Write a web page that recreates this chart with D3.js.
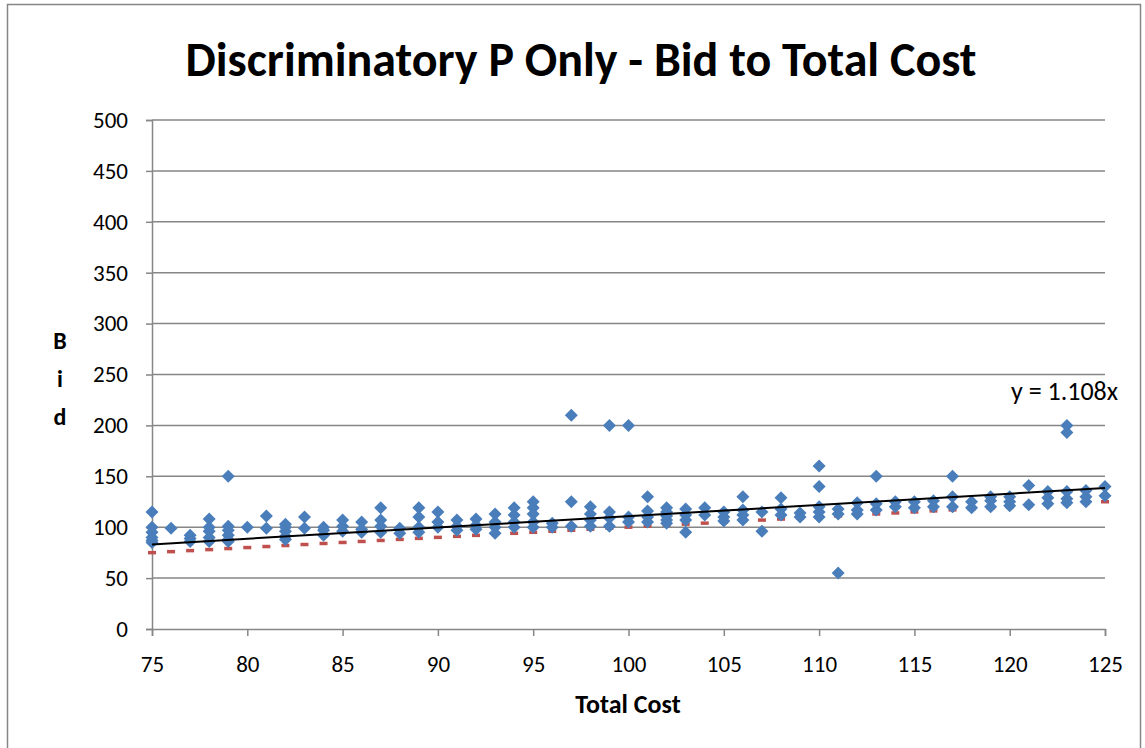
<!DOCTYPE html>
<html>
<head>
<meta charset="utf-8">
<script src="https://cdn.jsdelivr.net/npm/d3@7"></script>
<style>
  body { margin: 0; background: #fff; }
  svg { display: block; font-family: Carlito, Calibri, Lato, sans-serif; }
</style>
</head>
<body>
<div id="chart"></div>
<script>
// Datos: coste total (x) y pujas observadas en cada coste
const costs = [75, 76, 77, 78, 79, 80, 81, 82, 83, 84, 85, 86, 87, 88, 89, 90, 91, 92, 93, 94, 95, 96, 97, 98, 99, 100,
  101, 102, 103, 104, 105, 106, 107, 108, 109, 110, 111, 112, 113, 114, 115, 116, 117, 118, 119, 120, 121, 122, 123, 124, 125];
const bids = [
  [115, 100, 95, 90, 87, 85],
  [99],
  [92, 89, 86],
  [108, 100, 96, 90, 86],
  [150, 101, 97, 92, 88, 86],
  [100],
  [111, 99],
  [103, 100, 96, 91, 88],
  [110, 99],
  [100, 97, 92],
  [107, 101, 96],
  [105, 98, 95],
  [119, 107, 101, 95],
  [99, 94],
  [119, 110, 100, 95],
  [115, 105, 100],
  [107, 101, 97],
  [108, 102, 98],
  [113, 105, 100, 94],
  [119, 112, 105, 100],
  [125, 119, 113, 105, 100],
  [104, 100],
  [210, 125, 101],
  [120, 113, 107, 101],
  [200, 115, 109, 101],
  [200, 110, 105],
  [130, 116, 110, 105],
  [119, 115, 111, 107, 104],
  [118, 112, 107, 95],
  [119, 112],
  [115, 110, 106],
  [130, 117, 112, 107],
  [115, 96],
  [129, 118, 112],
  [114, 110],
  [160, 140, 120, 115, 110],
  [118, 113, 55],
  [124, 117, 113],
  [150, 123, 117],
  [125, 120],
  [125, 119],
  [126, 120],
  [150, 130, 120],
  [125, 119],
  [130, 126, 120],
  [130, 125, 121],
  [141, 122],
  [135, 129, 123],
  [200, 193, 135, 128, 124],
  [136, 130, 125],
  [140, 131]
];
const trendSlope = 1.108;
const xTicks = [75, 80, 85, 90, 95, 100, 105, 110, 115, 120, 125];
const yTicks = [0, 50, 100, 150, 200, 250, 300, 350, 400, 450, 500];

const W = 1145, H = 748;
const margin = {top: 120, right: 40, bottom: 119, left: 152};
const width = 1105 - margin.left, height = 629 - margin.top;

let svg = d3.select('#chart').append('svg')
  .attr('width', W).attr('height', H);

// marco exterior
svg.append('rect')
  .attr('x', 7.5).attr('y', 4.5)
  .attr('width', 1133).attr('height', 800)
  .attr('fill', 'none').attr('stroke', '#868686').attr('stroke-width', 1.5);

svg.append('text')
  .attr('x', 581).attr('y', 76)
  .attr('text-anchor', 'middle')
  .attr('font-size', 48).attr('font-weight', 'bold')
  .text('Discriminatory P Only - Bid to Total Cost');

let g = svg.append('g').attr('transform', 'translate(' + margin.left + ',' + margin.top + ')');

let x = d3.scaleLinear().domain([75, 125]).range([0, width]);
let y = d3.scaleLinear().domain([0, 500]).range([height, 0]);

// rejilla horizontal
g.append('g')
  .selectAll('line')
  .data(yTicks.slice(1))
  .enter().append('line')
  .attr('x1', 0).attr('x2', width)
  .attr('y1', d => y(d)).attr('y2', d => y(d))
  .attr('stroke', '#868686').attr('stroke-width', 1.5);

let yAxis = g.append('g')
  .call(d3.axisLeft(y).tickValues(yTicks).tickSize(6).tickPadding(18));
yAxis.selectAll('text').attr('font-size', 23).attr('fill', '#000').style('font-family', 'Carlito, Calibri, sans-serif');

let xAxis = g.append('g')
  .attr('transform', 'translate(0,' + height + ')')
  .call(d3.axisBottom(x).tickValues(xTicks).tickSize(7).tickPadding(20));
xAxis.selectAll('text').attr('font-size', 23).attr('fill', '#000').style('font-family', 'Carlito, Calibri, sans-serif');

[yAxis, xAxis].forEach(function(a) {
  a.select('.domain').attr('stroke', '#868686').attr('stroke-width', 1.5);
  a.selectAll('.tick line').attr('stroke', '#868686').attr('stroke-width', 1.5);
});

// serie puja = coste (marcas en guion)
g.append('g')
  .selectAll('rect')
  .data(costs)
  .enter().append('rect')
  .attr('x', d => x(d) - 4)
  .attr('y', d => y(d) - 1.75)
  .attr('width', 8).attr('height', 3.5)
  .attr('fill', '#C0504D');

// puntos
let points = [];
costs.forEach(function(c, i) {
  bids[i].forEach(function(b) { points.push({cost: c, bid: b}); });
});

g.append('g')
  .selectAll('path')
  .data(points)
  .enter().append('path')
  .attr('transform', d => 'translate(' + x(d.cost) + ',' + y(d.bid) + ')')
  .attr('d', 'M0,-6.5L6.5,0L0,6.5L-6.5,0Z')
  .attr('fill', '#4A7EBB');

// linea de tendencia
g.append('line')
  .attr('x1', x(75)).attr('y1', y(75 * trendSlope))
  .attr('x2', x(125)).attr('y2', y(125 * trendSlope))
  .attr('stroke', '#000').attr('stroke-width', 2);

svg.append('text')
  .attr('x', 1118).attr('y', 400)
  .attr('text-anchor', 'end')
  .attr('font-size', 26)
  .text('y = ' + trendSlope + 'x');

// titulos de ejes
svg.append('text')
  .attr('x', 628).attr('y', 713)
  .attr('text-anchor', 'middle')
  .attr('font-size', 26).attr('font-weight', 'bold')
  .text('Total Cost');

['B', 'i', 'd'].forEach(function(l, i) {
  svg.append('text')
    .attr('x', 60).attr('y', 349 + i * 38)
    .attr('text-anchor', 'middle')
    .attr('font-size', 24).attr('font-weight', 'bold')
    .text(l);
});
</script>
</body>
</html>
